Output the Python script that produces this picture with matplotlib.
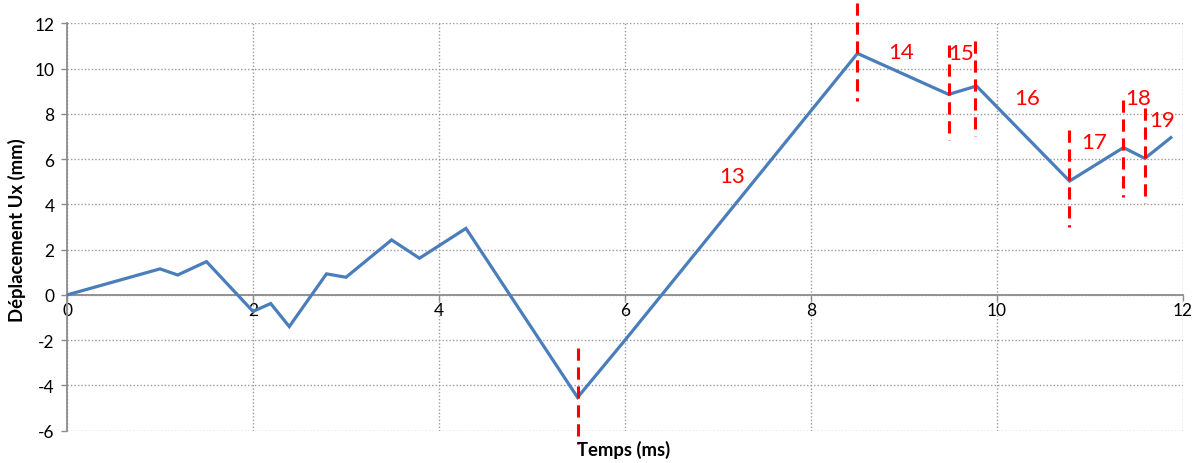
import matplotlib
matplotlib.use("Agg")
import matplotlib.pyplot as plt

# Displacement history
temps = [0.0, 1.0, 1.19, 1.5, 2.0, 2.19, 2.39, 2.79, 3.0, 3.49, 3.79, 4.29,
         5.49, 6.0, 8.5, 9.48, 9.78, 10.78, 11.36, 11.59, 11.87]
deplacement = [0.0, 1.15, 0.88, 1.47, -0.73, -0.38, -1.40, 0.93, 0.78, 2.43,
               1.62, 2.94, -4.53, -2.0, 10.67, 8.86, 9.23, 5.03, 6.51, 6.03, 6.95]

# Phase boundaries (x, y_top, y_bottom)
limites_x = [5.49, 8.5, 9.48, 9.76, 10.77, 11.36, 11.59]
limites_haut = [-2.35, 12.9, 11.04, 11.21, 7.28, 8.61, 8.24]
limites_bas = [-6.6, 8.55, 6.84, 7.04, 3.02, 4.34, 4.05]

# Phase labels
phases = ["13", "14", "15", "16", "17", "18", "19"]
phases_x = [7.15, 8.97, 9.61, 10.32, 11.04, 11.52, 11.77]
phases_y = [5.25, 10.75, 10.70, 8.71, 6.77, 8.71, 7.73]

plt.rcParams['font.family'] = ['Lato', 'DejaVu Sans']
plt.rcParams['axes.unicode_minus'] = False

fig = plt.figure(figsize=(12.01, 4.64), dpi=100)
ax = fig.add_axes([0.0558, 0.0696, 0.9292, 0.878])

ax.plot(temps, deplacement, color='#4A7EBB', lw=2.3, solid_joinstyle='miter', zorder=3)

# dashed separators, drawn from top down
for x, y1, y0 in zip(limites_x, limites_haut, limites_bas):
    ax.plot([x, x], [y1, y0], color='#FF0000', lw=2.2, linestyle=(0, (4.0, 2.2)),
            clip_on=False, zorder=4)

for s, x, y in zip(phases, phases_x, phases_y):
    ax.text(x, y, s, color='#FF0000', fontsize=16, ha='center', va='center', zorder=5)

ax.set_xlim(0, 12)
ax.set_ylim(-6, 12)
ax.set_xticks(range(0, 13, 2))
ax.set_yticks(range(-6, 13, 2))

ax.grid(True, color='#9a9a9a', linestyle=(0, (1, 1.5)), lw=1.0)
ax.set_axisbelow(True)

for side in ('top', 'right'):
    ax.spines[side].set_visible(False)
ax.spines['left'].set_color('#8c8c8c')
ax.spines['left'].set_linewidth(1.3)
ax.spines['bottom'].set_position(('data', 0))
ax.spines['bottom'].set_color('#8c8c8c')
ax.spines['bottom'].set_linewidth(1.3)

ax.tick_params(axis='y', direction='out', length=4, width=1, color='#8c8c8c',
               labelsize=12.5, pad=5)
ax.tick_params(axis='x', direction='out', length=4, width=1, color='#8c8c8c',
               labelsize=12.5, pad=1)

fig.text(0.0145, 0.504, "Déplacement Ux (mm)", fontsize=13.3, fontweight='bold',
         rotation=90, ha='center', va='center')
fig.text(0.5196, 0.030, "Temps (ms)", fontsize=13.3, fontweight='bold',
         ha='center', va='center')

fig.savefig("out.png", dpi=100)
